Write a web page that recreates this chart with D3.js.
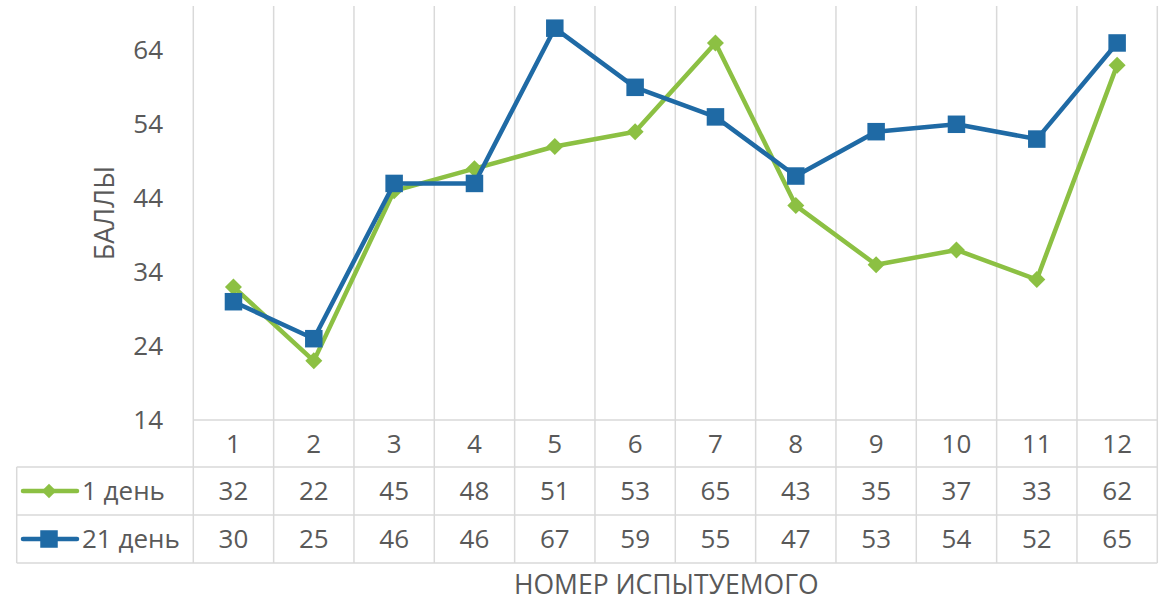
<!DOCTYPE html>
<html>
<head>
<meta charset="utf-8">
<script src="https://cdn.jsdelivr.net/npm/d3@7"></script>
<style>
  body { margin: 0; background: #fff; }
  text { font-family: "Open Sans", sans-serif; fill: #595959; }
</style>
</head>
<body>
<svg width="1168" height="602"></svg>
<script>
/* DATA */
var categories = ["1", "2", "3", "4", "5", "6", "7", "8", "9", "10", "11", "12"];
var day1 = [32, 22, 45, 48, 51, 53, 65, 43, 35, 37, 33, 62];
var day21 = [30, 25, 46, 46, 67, 59, 55, 47, 53, 54, 52, 65];
var yTicks = [14, 24, 34, 44, 54, 64];
var seriesNames = ["1 день", "21 день"];
var colors = ["#8cc043", "#1f6aa5"];

/* LAYOUT */
var svg = d3.select("svg");
var plotLeft = 193.3, plotRight = 1157.3;
var plotTop = 6, plotBottom = 420;
var rowH = 48;
var legendLeft = 16.7;
var grid = "#d9d9d9";
var numSize = "26px";

var x = d3.scaleBand().domain(categories).range([plotLeft, plotRight]);
var y = d3.scaleLinear().domain([14, 70]).range([plotBottom, plotTop]);

/* GRID + TABLE LINES */
var g = svg.append("g").attr("stroke", grid).attr("stroke-width", 1.5);
var bounds = categories.map(function (c) { return x(c); }).concat([plotRight]);
g.selectAll("line.v").data(bounds).enter().append("line")
  .attr("x1", function (d) { return d; }).attr("x2", function (d) { return d; })
  .attr("y1", plotTop).attr("y2", plotBottom + rowH * 3 - 1);
g.append("line").attr("x1", plotLeft).attr("x2", plotRight).attr("y1", plotBottom).attr("y2", plotBottom);
[1, 2, 3].forEach(function (i) {
  g.append("line").attr("x1", legendLeft).attr("x2", plotRight)
    .attr("y1", plotBottom + rowH * i - 1).attr("y2", plotBottom + rowH * i - 1);
});
g.append("line").attr("x1", legendLeft).attr("x2", legendLeft)
  .attr("y1", plotBottom + rowH - 1).attr("y2", plotBottom + rowH * 3 - 1);

/* Y AXIS */
svg.append("g").selectAll("text").data(yTicks).enter().append("text")
  .attr("x", 163).attr("y", function (d) { return y(d); })
  .attr("dy", "0.35em").attr("text-anchor", "end")
  .style("font-size", numSize).text(function (d) { return d; });

svg.append("text")
  .attr("transform", "translate(105,213) rotate(-90)")
  .attr("text-anchor", "middle").attr("dy", "0.35em")
  .style("font-size", "27px").text("БАЛЛЫ");

svg.append("text")
  .attr("x", (plotLeft + plotRight) / 2 - 9).attr("y", 585)
  .attr("text-anchor", "middle").attr("dy", "0.35em")
  .style("font-size", "26.5px").text("НОМЕР ИСПЫТУЕМОГО");

/* TABLE TEXT */
var cx = function (c) { return x(c) + x.bandwidth() / 2; };
svg.append("g").selectAll("text").data(categories).enter().append("text")
  .attr("x", cx).attr("y", plotBottom + rowH / 2).attr("dy", "0.35em")
  .attr("text-anchor", "middle").style("font-size", numSize)
  .text(function (d) { return d; });

var series = [day1, day21];
series.forEach(function (vals, si) {
  var rowY = plotBottom + rowH * (si + 1) + rowH / 2 - 1;
  svg.append("g").selectAll("text").data(vals).enter().append("text")
    .attr("x", function (d, i) { return cx(categories[i]); })
    .attr("y", rowY).attr("dy", "0.35em")
    .attr("text-anchor", "middle").style("font-size", numSize)
    .text(function (d) { return d; });
  svg.append("line").attr("x1", 23).attr("x2", 77).attr("y1", rowY).attr("y2", rowY)
    .attr("stroke", colors[si]).attr("stroke-width", 4.5).attr("stroke-linecap", "round");
  drawMarker(svg, si, 49, rowY, si == 0 ? 0.85 : 1);
  svg.append("text").attr("x", 82).attr("y", rowY).attr("dy", "0.35em")
    .style("font-size", "26px").text(seriesNames[si]);
});

function drawMarker(sel, si, px, py, k) {
  if (si == 0) {
    var r = 8.5 * k;
    sel.append("path")
      .attr("d", "M" + px + "," + (py - r) + "L" + (px + r) + "," + py + "L" + px + "," + (py + r) + "L" + (px - r) + "," + py + "Z")
      .attr("fill", colors[si]);
  } else {
    var s = 17.5 * k;
    sel.append("rect").attr("x", px - s / 2).attr("y", py - s / 2)
      .attr("width", s).attr("height", s).attr("fill", colors[si]);
  }
}

/* LINES */
var line = d3.line()
  .x(function (d, i) { return cx(categories[i]); })
  .y(function (d) { return y(d); });

series.forEach(function (vals, si) {
  var sg = svg.append("g");
  sg.append("path").datum(vals).attr("d", line)
    .attr("fill", "none").attr("stroke", colors[si])
    .attr("stroke-width", 4.5).attr("stroke-linejoin", "round");
  vals.forEach(function (v, i) {
    drawMarker(sg, si, cx(categories[i]), y(v), 1);
  });
});
</script>
</body>
</html>
